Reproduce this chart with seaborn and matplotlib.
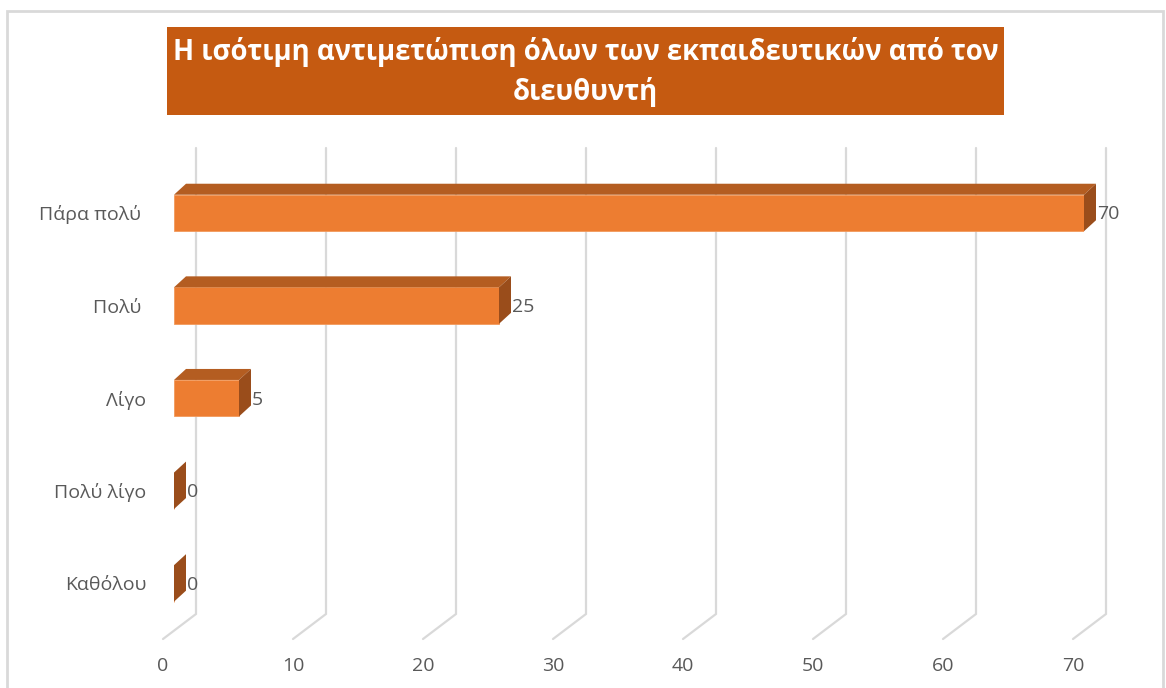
import matplotlib
matplotlib.use("Agg")
import matplotlib.pyplot as plt
import matplotlib.transforms as mtransforms
from matplotlib.patches import Polygon, Rectangle
import pandas as pd
import seaborn as sns

# chart data
categories = ["Πάρα πολύ ", "Πολύ ", "Λίγο", "Πολύ λίγο", "Καθόλου"]
values = [70, 25, 5, 0, 0]
x_ticks = [0, 10, 20, 30, 40, 50, 60, 70]
title = "Η ισότιμη αντιμετώπιση όλων των εκπαιδευτικών από τον\nδιευθυντή"

df = pd.DataFrame({"answer": categories, "value": values})

sns.set_theme(style="white")
plt.rcParams["font.family"] = ["Open Sans", "DejaVu Sans"]

W, H = 1166, 688
fig = plt.figure(figsize=(W / 100, H / 100), dpi=100)
ax = fig.add_axes([174 / W, (H - 640) / H, 910 / W, 500 / H])

sns.barplot(data=df, x="value", y="answer", orient="h", color="#ED7D31",
            saturation=1, width=0.394, edgecolor="#F29A5C", linewidth=0.6,
            ax=ax, zorder=2)
ax.set_xlim(0, 70)
ax.set_ylim(4.611, -0.788)
for s in ax.spines.values():
    s.set_visible(False)
ax.set_xlabel("")
ax.set_ylabel("")

def disp(x, y):
    return ax.transData.transform((x, y))

def data(points):
    return ax.transData.inverted().transform(points)

# fake 3d depth (pixels)
ddx, ddy = 12, 11
for p in list(ax.patches):
    x0, y0, w, h = p.get_x(), p.get_y(), p.get_width(), p.get_height()
    tl = disp(x0, y0)
    tr = disp(x0 + w, y0)
    br = disp(x0 + w, y0 + h)
    top = [tl, tr, tr + [ddx, ddy], tl + [ddx, ddy]]
    side = [tr, br, br + [ddx, ddy], tr + [ddx, ddy]]
    if w > 0:
        ax.add_patch(Polygon(data(top), closed=True, facecolor="#B45D21",
                             edgecolor="none", zorder=2, clip_on=False))
    ax.add_patch(Polygon(data(side), closed=True, facecolor="#9A4D1B",
                         edgecolor="none", zorder=2, clip_on=False))

# back wall gridlines + floor
for t in x_ticks:
    xd = disp(t, 0)[0]
    pts = data([[xd + 22, H - 148], [xd + 22, H - 614], [xd - 11, H - 639]])
    ax.plot(pts[:, 0], pts[:, 1], color="#D9D9D9", lw=1.6, zorder=0.5,
            clip_on=False, solid_joinstyle="miter")

# value labels
for i, v in enumerate(values):
    ax.annotate(str(v), xy=(v, i), xytext=(9.5, -1), textcoords="offset points",
                va="center", ha="left", fontsize=14, color="#595959")

ax.set_xticks(x_ticks)
ax.tick_params(axis="x", length=0, pad=12.5, labelsize=14, labelcolor="#595959")
ax.tick_params(axis="y", length=0, pad=20, labelsize=14, labelcolor="#595959")
shift = mtransforms.ScaledTranslation(-0.11, 0, fig.dpi_scale_trans)
for lab in ax.get_xticklabels():
    lab.set_transform(lab.get_transform() + shift)

# outer frame and title box
fig.add_artist(Rectangle((7 / W, -0.02), 1156 / W, (H - 11) / H + 0.02,
                         transform=fig.transFigure, fill=False,
                         edgecolor="#D9D9D9", lw=2))
fig.add_artist(Rectangle((167 / W, (H - 115) / H), 837 / W, 88 / H,
                         transform=fig.transFigure, facecolor="#C55A11",
                         edgecolor="none"))
fig.text(585.5 / W, 1 - 72 / H, title, ha="center", va="center",
         color="white", fontsize=19.8, fontweight="bold", linespacing=1.45)

fig.savefig("out.png", dpi=100)
